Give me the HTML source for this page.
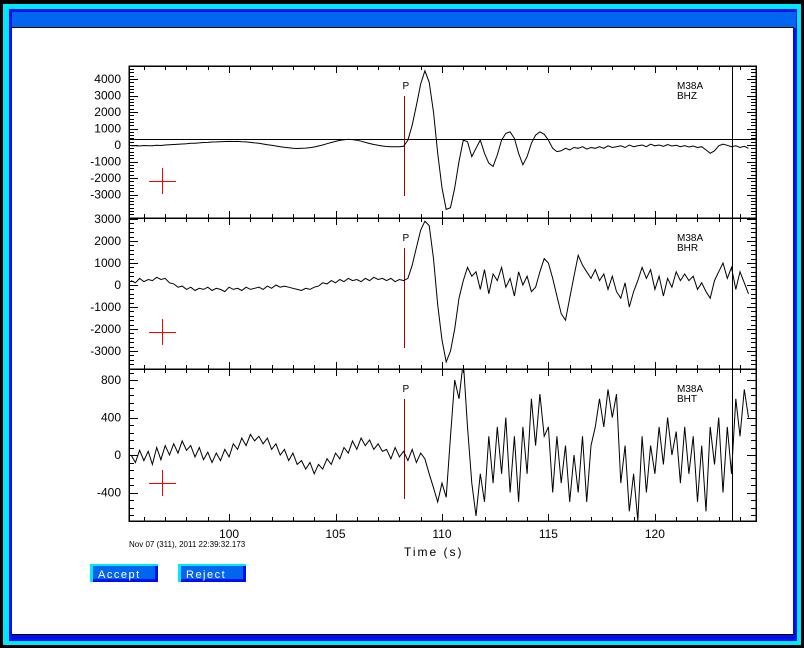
<!DOCTYPE html>
<html><head><meta charset="utf-8">
<style>
html,body{margin:0;padding:0;background:#000;}
#root{position:relative;width:804px;height:648px;overflow:hidden;background:#000;font-family:"Liberation Mono",monospace;}
svg text{font-family:"Liberation Sans",sans-serif;}
</style></head>
<body>
<div id="root">
<svg id="chart" width="804" height="648" viewBox="0 0 804 648" xmlns="http://www.w3.org/2000/svg">
  <rect x="3" y="4" width="798" height="641" fill="#00e8ff"/>
  <rect x="9" y="9" width="788" height="632" fill="#0010ee"/>
  <rect x="12" y="12" width="784" height="16" fill="#0066f0"/>
  <rect x="12" y="27" width="782" height="1" fill="#000"/>
  <rect x="12" y="28" width="781" height="606" fill="#fff"/>
  <rect x="12" y="634" width="784" height="1" fill="#000"/>
  <g id="plots" shape-rendering="crispEdges"></g>
  <g id="traces"></g>
  <text x="129" y="547" font-size="8" fill="#000">Nov 07 (311), 2011 22:39:32.173</text>
  <text x="404" y="556" font-size="12" letter-spacing="2" fill="#000">Time (s)</text>
  <g>
    <rect x="90" y="564" width="68" height="18" fill="#00e8ff"/>
    <rect x="93" y="566" width="65" height="16" fill="#0010ee"/>
    <rect x="93" y="566" width="62" height="13" fill="#0066f0"/>
    <text x="98" y="578" font-size="11" fill="#fff" letter-spacing="1.5">Accept</text>
  </g>
  <g>
    <rect x="178" y="564" width="68" height="18" fill="#00e8ff"/>
    <rect x="181" y="566" width="65" height="16" fill="#0010ee"/>
    <rect x="181" y="566" width="62" height="13" fill="#0066f0"/>
    <text x="186" y="578" font-size="11" fill="#fff" letter-spacing="1.5">Reject</text>
  </g>
</svg>
</div>
<script>
const t0 = 95.4, dt = 0.2;
const xTicks = [100, 105, 110, 115, 120];
const pickTime = 108.22;
const endTime = 123.62;
const bhz = [-50,-40,-60,-30,-50,-40,-20,-30,0,20,
30,50,60,80,100,110,130,150,160,180,
190,200,210,220,210,220,200,190,160,130,
100,60,20,-20,-60,-100,-140,-170,-200,-210,
-200,-190,-160,-120,-60,0,80,150,220,280,
320,340,330,290,230,160,90,30,-20,-60,
-90,-100,-110,-100,-80,
300,1200,2400,3700,4500,
3800,2000,-500,-2600,-3900,
-3800,-2600,-1000,300,200,
-700,-200,300,-500,-1100,
-1300,-600,300,700,800,
400,-500,-1200,-700,100,
600,800,650,300,-200,
-400,-350,-200,-300,-150,
-200,-100,-250,-150,-200,
-100,-200,-50,-150,-100,
-50,-150,0,-100,-50,
0,-100,50,-50,0,
-80,30,-60,-20,-100,
-40,-120,-60,-150,-100,
-300,-500,-350,-50,50,
-20,-100,-50,-150,-80,-200];
const bhr = [200,100,300,150,250,200,350,250,300,100,
50,-100,-50,-200,-100,-250,-150,-200,-100,-250,
-150,-200,-300,-100,-200,-150,-250,-100,-200,-150,
-100,-200,-50,-150,0,-100,-50,-100,-150,-200,
-250,-150,-200,-100,-50,100,50,200,100,250,
150,300,200,250,150,300,200,350,250,300,
200,300,150,250,200,
300,900,1700,2500,2900,
2700,1200,-900,-2500,-3500,
-3000,-2000,-600,200,800,
400,600,-200,700,-400,
500,200,800,-100,300,
-500,600,0,400,-300,
-100,600,1200,1000,300,
-500,-1300,-1600,-600,400,
1350,900,600,300,700,
200,500,-200,400,-300,
-600,100,-1000,-300,200,
800,300,700,-200,400,
-500,300,-100,600,200,
500,200,400,-200,100,
-300,-600,200,600,1000,
300,800,-200,600,100,-400];
const bht = [0,-80,50,-60,40,-100,80,-50,100,0,
120,20,150,50,100,-20,80,-50,30,-80,
20,-60,60,-20,120,60,180,100,220,150,
200,120,180,60,120,0,60,-60,20,-100,
-60,-150,-80,-200,-100,-150,-40,-100,20,-40,
80,20,150,60,180,100,160,60,120,40,
60,-40,80,-20,40,-60,60,-80,20,-40,
-200,-350,-500,-300,-450,
200,800,600,1000,300,
-300,-650,-200,-500,200,
-300,300,-200,400,-400,
200,-500,300,-200,600,
100,650,200,300,-400,
200,-300,100,-500,0,
-400,200,-500,100,300,
600,300,700,400,650,
-300,100,-600,-200,-700,
200,-400,100,-200,300,
-100,400,0,250,-300,
300,-200,200,-500,100,
-600,300,-100,400,-400,
300,-200,600,200,700,400];
const zTicks = [4000,3000,2000,1000,0,-1000,-2000,-3000];
const rTicks = [3000,2000,1000,0,-1000,-2000,-3000];
const tTicks = [800,400,0,-400];

const NS = 'http://www.w3.org/2000/svg';
const L = 129, R = 756, tMin = 95.3, tMax = 124.75;
function xs(t){ return L + (t - tMin) * (R - L) / (tMax - tMin); }
const panels = [
  {top:66, bot:218, zeroY:145, ppu:16.5/1000, data:bhz, ticks:zTicks, minor:200, comp:'BHZ', cross:181, hline:360, name:'bhz'},
  {top:218, bot:369, zeroY:285, ppu:22/1000, data:bhr, ticks:rTicks, minor:200, comp:'BHR', cross:332, name:'bhr'},
  {top:369, bot:521, zeroY:455, ppu:75/800, data:bht, ticks:tTicks, minor:80, comp:'BHT', cross:483, name:'bht'}
];
const gP = document.getElementById('plots');
const gT = document.getElementById('traces');
function mk(tag, attrs, parent){ const e=document.createElementNS(NS,tag); for(const k in attrs) e.setAttribute(k,attrs[k]); parent.appendChild(e); return e; }

panels.forEach((p, pi) => {
  const ys = v => p.zeroY - v * p.ppu;
  const g = mk('g', {}, gP);
  
  
  const fr = mk('rect', {x:L, y:p.top, width:R-L, height:p.bot-p.top, fill:'none', stroke:'#000', 'stroke-width':1.5}, g);
  
  
  for (let t = 96; t <= 124; t++) {
    const x = Math.round(xs(t)) + 0.5;
    const len = (t % 5 === 0) ? 7 : 4;
    mk('line', {x1:x, x2:x, y1:p.top, y2:p.top+len, stroke:'#000'}, g);
    mk('line', {x1:x, x2:x, y1:p.bot, y2:p.bot-len, stroke:'#000'}, g);
  }
  const vTop = (p.zeroY - p.top) / p.ppu, vBot = (p.zeroY - p.bot) / p.ppu;
  for (let v = Math.ceil(vBot / p.minor) * p.minor; v <= vTop; v += p.minor) {
    const y = Math.round(ys(v)) + 0.5;
    const major = p.ticks.indexOf(v) >= 0;
    const len = major ? 9 : 5;
    mk('line', {x1:L, x2:L+len, y1:y, y2:y, stroke:'#000'}, g);
    mk('line', {x1:R, x2:R-len, y1:y, y2:y, stroke:'#000'}, g);
  }
  p.ticks.forEach(v => {
    const tx = mk('text', {x:121, y:ys(v)+4, 'font-size':12, 'text-anchor':'end', fill:'#000'}, g);
    tx.textContent = v;
    
    
  });
  if (pi === 2) {
    xTicks.forEach(t => {
      const tx = mk('text', {x:xs(t), y:538, 'font-size':12, 'text-anchor':'middle', fill:'#000'}, g);
      tx.textContent = t;
      
      
    });
  }
  if (p.hline !== undefined) {
    const hl = mk('line', {x1:L, x2:R, y1:Math.round(ys(p.hline))+0.5, y2:Math.round(ys(p.hline))+0.5, stroke:'#000'}, g);
    
    
  }
  const em = mk('line', {x1:Math.round(xs(endTime))+0.5, x2:Math.round(xs(endTime))+0.5, y1:p.top, y2:p.bot, stroke:'#000'}, g);
  
  
  const px = Math.round(xs(pickTime)) + 0.5;
  const pl = mk('line', {x1:px, x2:px, y1:p.top+30, y2:p.top+130, stroke:'#a00000'}, g);
  
  
  const pt = mk('text', {x:px-2, y:p.top+23, 'font-size':10, fill:'#000'}, g);
  pt.textContent = 'P';
  
  
  const st = mk('text', {x:677, y:p.top+23, 'font-size':10, fill:'#000'}, g);
  st.textContent = 'M38A';
  
  
  const ct = mk('text', {x:677, y:p.top+33, 'font-size':10, fill:'#000'}, g);
  ct.textContent = p.comp;
  
  
  const cr = mk('path', {d:'M149 '+p.cross+'.5 H176 M162.5 '+(p.cross-13)+' V'+(p.cross+13), stroke:'#ff0000', fill:'none'}, g);
  
  
  const cid = 'clip' + pi;
  const cp = mk('clipPath', {id:cid}, gT);
  mk('rect', {x:L, y:p.top, width:R-L, height:p.bot-p.top}, cp);
  let d = '';
  p.data.forEach((v, i) => {
    const x = xs(t0 + i * dt), y = ys(v);
    d += (i ? 'L' : 'M') + x.toFixed(1) + ' ' + y.toFixed(1);
  });
  const tr = mk('path', {d:d, fill:'none', stroke:'#000', 'stroke-width':1, 'clip-path':'url(#'+cid+')'}, gT);
  
  
});
</script>
</body></html>
